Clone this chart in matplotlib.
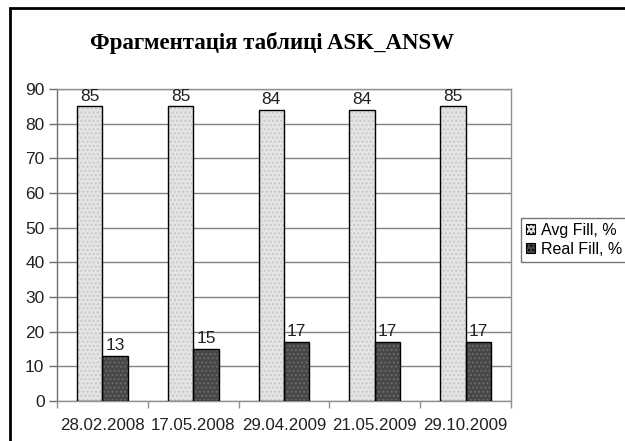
import numpy as np
import matplotlib
matplotlib.use("Agg")
import matplotlib.pyplot as plt
from matplotlib.patches import Rectangle

# data
dates = ["28.02.2008", "17.05.2008", "29.04.2009", "21.05.2009", "29.10.2009"]
avg_fill = [85, 85, 84, 84, 85]
real_fill = [13, 15, 17, 17, 17]
series_names = ["Avg Fill, %", "Real Fill, %"]

plt.rcParams['font.family'] = ['Liberation Sans', 'DejaVu Sans']

W, H = 625, 441
fig = plt.figure(figsize=(W / 100, H / 100), dpi=100)
fig.patch.set_facecolor("white")

# plot area in pixels: x 57-511, y 89-401
ax = fig.add_axes([57 / W, 1 - 401 / H, (511 - 57) / W, (401 - 89) / H])

x = np.arange(len(dates))
w = 0.28
colors = ["#e4e4e4", "#474747"]
hatch_cols = ["#c8c8c8", "#6a6a6a"]

for i, vals in enumerate([avg_fill, real_fill]):
    pos = x - w / 2 if i == 0 else x + w / 2
    # stippled fill, then outline on top
    ax.bar(pos, vals, w, color=colors[i], hatch="....", edgecolor=hatch_cols[i],
           linewidth=0, zorder=3)
    ax.bar(pos, vals, w, fill=False, edgecolor="black", linewidth=1.0, zorder=4)
    for p, v in zip(pos, vals):
        ax.annotate(str(v), (p, v), xytext=(0, 2), textcoords="offset points",
                    ha="center", va="bottom", fontsize=12.5, color="#222222", zorder=5)

ax.set_xlim(-0.5, len(dates) - 0.5)
ax.set_ylim(0, 90)
ax.set_yticks(range(0, 91, 10))
ax.tick_params(axis="y", labelsize=12.5, length=6, width=1, color="#707070",
               colors="#222222", pad=3)
ax.yaxis.grid(True, color="#808080", linewidth=1)
ax.set_axisbelow(True)

ax.set_xticks(x)
ax.set_xticklabels(dates)
ax.tick_params(axis="x", labelsize=12.2, length=0, pad=12, colors="#222222")
ax.set_xticks(np.arange(-0.5, len(dates), 1), minor=True)
ax.tick_params(axis="x", which="minor", length=5, width=1, color="#909090")

for s in ax.spines.values():
    s.set_color("#909090")
    s.set_linewidth(1)
ax.spines["left"].set_color("#707070")

fig.text(272 / W, 1 - 43 / H, "Фрагментація таблиці ASK_ANSW",
         ha="center", va="center", fontsize=16.5, fontweight="bold",
         family=["Liberation Serif", "DejaVu Serif"], color="black")

# legend
handles = [Rectangle((0, 0), 1, 1, facecolor=colors[i], edgecolor="black",
                     hatch="....", linewidth=0.8) for i in range(2)]
leg = fig.legend(handles, series_names, loc="upper left",
                 bbox_to_anchor=(521 / W, 1 - 218 / H), fontsize=11.5,
                 frameon=True, fancybox=False, edgecolor="#555555",
                 handlelength=0.6, handleheight=0.6, handletextpad=0.35,
                 borderpad=0.3, labelspacing=0.25, borderaxespad=0)
leg.get_frame().set_linewidth(1)

# outer chart border
fig.add_artist(Rectangle((10 / W, -0.1), 1.2, 1 - 8 / H + 0.1,
                         transform=fig.transFigure, fill=False,
                         edgecolor="black", linewidth=2))

fig.savefig("out.png", dpi=100)
